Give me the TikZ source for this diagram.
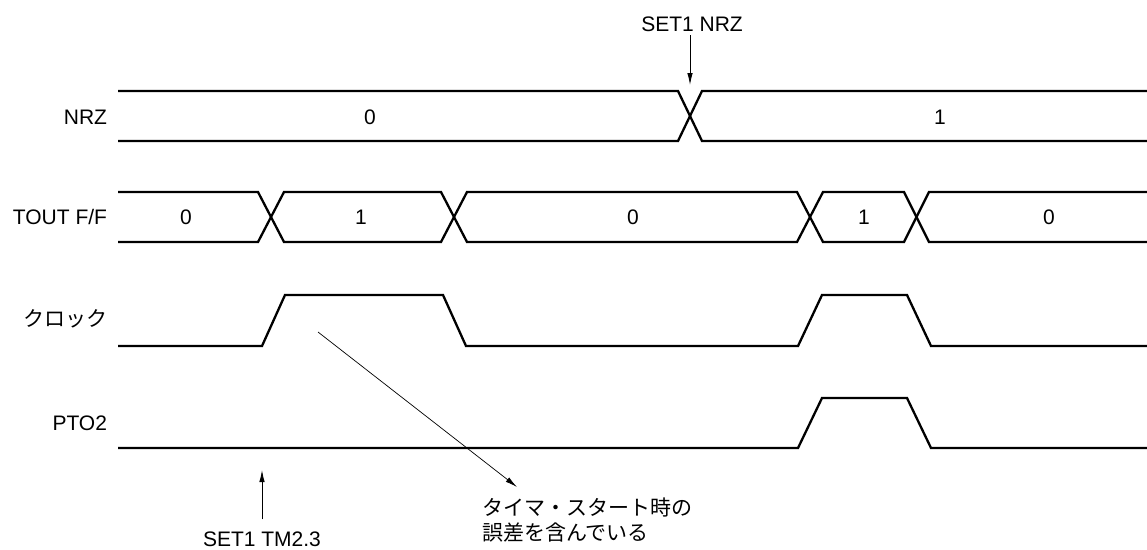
\documentclass[tikz,border=0pt]{standalone}
\usepackage{fontspec}
\setmainfont{Liberation Sans}
\newfontfamily\jp{Noto Sans CJK JP}
\usetikzlibrary{arrows.meta}
\begin{document}
\begin{tikzpicture}[x=1pt,y=-1pt,
  every node/.style={inner sep=0pt,outer sep=0pt,font=\fontsize{21}{25}\selectfont},
  sig/.style={line width=2.3pt,line join=miter},
  arr/.style={line width=0.9pt,-{Latex[length=12pt,width=5.5pt]}},
  lbl/.style={anchor=base east},
  val/.style={anchor=base}]
\useasboundingbox (0,0) rectangle (1147,549);
% signal names
\node[lbl] (lnrz) at (107,124.5) {NRZ};
\node[lbl] (ltout) at (107,224.5) {TOUT F/F};
\node[lbl] (lclk) at (107,326) {\jp クロック};
\node[lbl] (lpto) at (107,430.5) {PTO2};
% NRZ bus
\draw[sig] (118,91) -- (678,91) -- (702,141) -- (1147,141);
\draw[sig] (118,141) -- (678,141) -- (702,91) -- (1147,91);
\node[val] (nrz0) at (370,124.5) {0};
\node[val] (nrz1) at (940,124.5) {1};
% TOUT F/F bus
\draw[sig] (118,192) -- (258,192) -- (284,242) -- (441,242) -- (467,192) -- (797,192) -- (823,242) -- (904,242) -- (929,192) -- (1147,192);
\draw[sig] (118,242) -- (258,242) -- (284,192) -- (441,192) -- (467,242) -- (797,242) -- (823,192) -- (904,192) -- (929,242) -- (1147,242);
\node[val] (t0a) at (186,224.5) {0};
\node[val] (t1a) at (361,224.5) {1};
\node[val] (t0b) at (633,224.5) {0};
\node[val] (t1b) at (864,224.5) {1};
\node[val] (t0c) at (1049,224.5) {0};
% clock
\draw[sig] (118,346) -- (262,346) -- (285,295) -- (443,295) -- (466,346) -- (798,346) -- (822,295) -- (907,295) -- (931,346) -- (1147,346);
% PTO2
\draw[sig] (118,448) -- (798,448) -- (822,398) -- (907,398) -- (931,448) -- (1147,448);
% SET1 NRZ marker
\node[anchor=base] (setnrz) at (692,31) {SET1 NRZ};
\coordinate (nrzmark) at (690,85);
\draw[arr] ([yshift=-4pt]setnrz.south -| nrzmark) -- (nrzmark);
% SET1 TM2.3 marker
\node[anchor=base] (settm) at (262,546) {SET1 TM2.3};
\coordinate (tmmark) at (262,470);
\draw[arr] ([yshift=12pt]settm.north -| tmmark) -- (tmmark);
% error note
\node[anchor=base west] (err1) at (482,515) {\jp タイマ・スタート時の};
\node[anchor=base west] (err2) at (482,540) {\jp 誤差を含んでいる};
\coordinate (errsrc) at (318,332);
\coordinate (errtip) at (517,487);
\draw[arr,line width=0.7pt] (errsrc) -- (errtip);
\end{tikzpicture}
\end{document}
